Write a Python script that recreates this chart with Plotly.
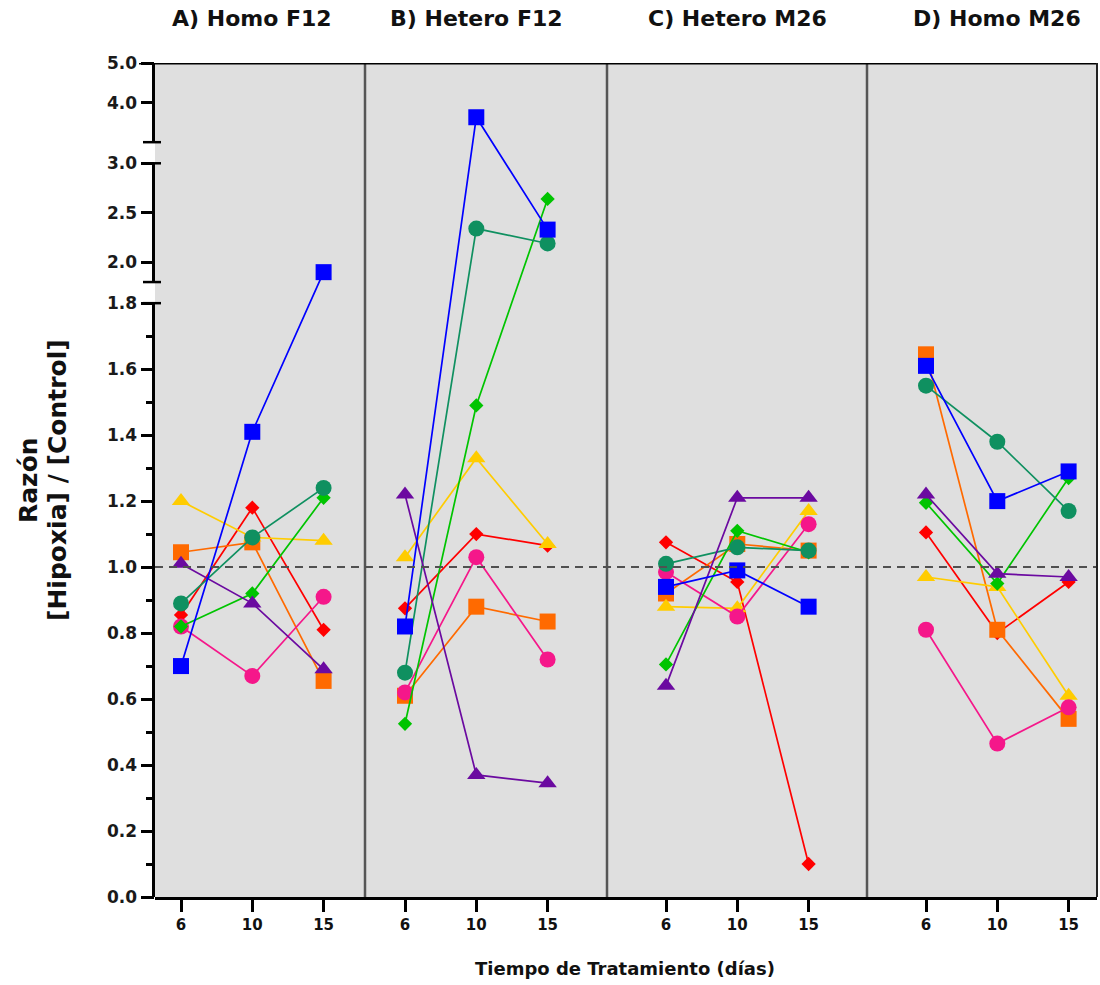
import plotly.graph_objects as go

# ---------------- data ----------------
DIAS = ["6", "10", "15"]
PANELES = ["A) Homo F12", "B) Hetero F12", "C) Hetero M26", "D) Homo M26"]

# values per panel (A, B, C, D) at days 6, 10, 15
ROJO = [[0.855, 1.18, 0.81], [0.875, 1.10, 1.065], [1.075, 0.955, 0.10], [1.105, 0.80, 0.955]]
NARANJA = [[1.045, 1.075, 0.655], [0.61, 0.88, 0.835], [0.92, 1.07, 1.05], [1.645, 0.81, 0.54]]
AMARILLO = [[1.20, 1.09, 1.08], [1.03, 1.33, 1.07], [0.88, 0.875, 1.17], [0.97, 0.94, 0.61]]
ROSA = [[0.82, 0.67, 0.91], [0.62, 1.03, 0.72], [0.985, 0.85, 1.13], [0.81, 0.465, 0.575]]
VERDE = [[0.82, 0.92, 1.21], [0.525, 1.49, 2.64], [0.705, 1.11, 1.045], [1.195, 0.95, 1.27]]
VERDE_OSCURO = [[0.89, 1.09, 1.24], [0.68, 2.34, 2.19], [1.01, 1.06, 1.05], [1.55, 1.38, 1.17]]
MORADO = [[1.01, 0.89, 0.69], [1.22, 0.37, 0.345], [0.64, 1.21, 1.21], [1.22, 0.98, 0.97]]
AZUL = [[0.70, 1.41, 1.90], [0.82, 3.63, 2.33], [0.94, 0.99, 0.88], [1.61, 1.20, 1.29]]

Y_TICKS = [0.0, 0.2, 0.4, 0.6, 0.8, 1.0, 1.2, 1.4, 1.6, 1.8, 2.0, 2.5, 3.0, 4.0, 5.0]
Y_MINOR = [0.1, 0.3, 0.5, 0.7, 0.9, 1.1, 1.3, 1.5, 1.7]
REFERENCIA = 1.0

# ---------------- broken axis (3 segments) ----------------
LOW_MAX = 1.8
MID_MIN, MID_MAX = 1.8, 3.0
TOP_MIN, TOP_MAX = 3.0, 5.0
GAP = 0.064
K_MID = 0.30
K_TOP = 0.12

D_MID0 = LOW_MAX + GAP
D_MID1 = D_MID0 + (MID_MAX - MID_MIN) * K_MID
D_TOP0 = D_MID1 + GAP
D_TOP1 = D_TOP0 + (TOP_MAX - TOP_MIN) * K_TOP


def to_disp(v):
    if v <= LOW_MAX:
        return v
    if v <= MID_MAX:
        return D_MID0 + (v - MID_MIN) * K_MID
    return D_TOP0 + (v - TOP_MIN) * K_TOP


# ---------------- layout geometry ----------------
W, H = 1100, 985
PX_LEFT, PX_RIGHT = 155, 1097
PX_BOTTOM, PX_TOP = 897, 63
PANEL_EDGES = [155, 365, 607, 867, 1097]
CAT_FIRST = [181, 405, 666, 926]
CAT_STEP = 71.3
AXIS_X = 153.5


def px(x):
    return x / W


def py(y):
    return (H - y) / H


styles = [
    ("Rojo", ROJO, "#ff0000", "diamond", 11),
    ("Naranja", NARANJA, "#ff6a00", "square", 16),
    ("Amarillo", AMARILLO, "#ffcc00", "triangle-up", 16),
    ("Rosa", ROSA, "#f5178a", "circle", 16),
    ("Verde", VERDE, "#00c400", "diamond", 11),
    ("Verde oscuro", VERDE_OSCURO, "#0f9060", "circle", 16),
    ("Morado", MORADO, "#6b0aa0", "triangle-up", 16),
    ("Azul", AZUL, "#0000ff", "square", 16),
]

xaxes = ["x", "x2", "x3", "x4"]
fig = go.Figure()

for name, vals, color, symbol, size in styles:
    for p in range(4):
        fig.add_trace(go.Scatter(
            x=DIAS,
            y=[to_disp(v) for v in vals[p]],
            customdata=vals[p],
            xaxis=xaxes[p], yaxis="y",
            mode="lines+markers",
            name=name,
            showlegend=False,
            line=dict(color=color, width=1.7),
            marker=dict(symbol=symbol, size=size, color=color, line=dict(width=0)),
            hovertemplate=PANELES[p] + "<br>día %{x}: %{customdata:.2f}<extra>" + name + "</extra>",
        ))

layout = dict(
    width=W, height=H,
    autosize=False,
    margin=dict(l=0, r=0, t=0, b=0, pad=0),
    paper_bgcolor="white",
    plot_bgcolor="#dfdfdf",
    showlegend=False,
    font=dict(family="DejaVu Sans", color="#111111"),
)

for p in range(4):
    key = "xaxis" if p == 0 else f"xaxis{p + 1}"
    left, right = PANEL_EDGES[p], PANEL_EDGES[p + 1]
    r0 = (left - CAT_FIRST[p]) / CAT_STEP
    r1 = (right - CAT_FIRST[p]) / CAT_STEP
    layout[key] = dict(
        domain=[px(left), px(right)],
        anchor="y",
        automargin=False,
        type="category",
        categoryorder="array",
        categoryarray=DIAS,
        range=[r0, r1],
        showgrid=False, zeroline=False,
        showline=True, linewidth=3, linecolor="black",
        ticks="outside", ticklen=12, tickwidth=3, tickcolor="black",
        tickfont=dict(family="DejaVu Sans", size=15, color="#111111", weight="bold"),
        fixedrange=True,
    )

layout["yaxis"] = dict(
    domain=[py(PX_BOTTOM), py(PX_TOP)],
    anchor="free", position=px(AXIS_X),
    automargin=False,
    range=[0, D_TOP1],
    showgrid=False, zeroline=False, showline=False,
    tickmode="array",
    tickvals=[to_disp(v) for v in Y_TICKS],
    ticktext=[f"{v:.1f}" for v in Y_TICKS],
    ticks="outside", ticklen=13, tickwidth=2.5, tickcolor="black",
    tickfont=dict(family="DejaVu Sans", size=17, color="#1a1a1a", weight="bold"),
    minor=dict(tickvals=[to_disp(v) for v in Y_MINOR], ticks="outside",
               ticklen=8, tickwidth=2.5, tickcolor="black", showgrid=False),
    fixedrange=True,
)

shapes = []
# y-axis line, in three pieces
for y0, y1 in [(0, LOW_MAX), (D_MID0, D_MID1), (D_TOP0, D_TOP1)]:
    shapes.append(dict(type="line", xref="paper", yref="y", x0=px(AXIS_X), x1=px(AXIS_X),
                       y0=y0, y1=y1, line=dict(color="black", width=3)))
# break caps
for yc in [LOW_MAX, D_MID0, D_MID1, D_TOP0]:
    shapes.append(dict(type="line", xref="paper", yref="y", x0=px(143), x1=px(161),
                       y0=yc, y1=yc, line=dict(color="black", width=2.5)))
# panel separators
for xe in PANEL_EDGES[1:4]:
    shapes.append(dict(type="line", xref="paper", yref="y", x0=px(xe), x1=px(xe),
                       y0=0, y1=D_TOP1, line=dict(color="#555555", width=2.5)))
# reference line at 1.0
shapes.append(dict(type="line", xref="paper", yref="y", x0=px(PX_LEFT), x1=px(PX_RIGHT),
                   y0=to_disp(REFERENCIA), y1=to_disp(REFERENCIA),
                   line=dict(color="#505050", width=2, dash="8px,6px")))
# frame top and right
shapes.append(dict(type="line", xref="paper", yref="y", x0=px(139), x1=px(PX_RIGHT + 1),
                   y0=D_TOP1, y1=D_TOP1, line=dict(color="black", width=3)))
shapes.append(dict(type="line", xref="paper", yref="y", x0=px(PX_RIGHT), x1=px(PX_RIGHT),
                   y0=0, y1=D_TOP1, line=dict(color="#222222", width=2)))
layout["shapes"] = shapes

annotations = []
for p in range(4):
    annotations.append(dict(
        xref=xaxes[p], yref="paper", x=1, y=py(18), text=PANELES[p],
        showarrow=False, xanchor="center", yanchor="middle",
        font=dict(family="DejaVu Sans", size=22, color="#111111", weight="bold"),
    ))
annotations.append(dict(
    xref="paper", yref="paper", x=px(28), y=py(480), text="Razón", textangle=-90,
    showarrow=False, xanchor="center", yanchor="middle",
    font=dict(family="DejaVu Sans", size=25, color="#111111", weight="bold"),
))
annotations.append(dict(
    xref="paper", yref="paper", x=px(57), y=py(480), text="[Hipoxia] / [Control]", textangle=-90,
    showarrow=False, xanchor="center", yanchor="middle",
    font=dict(family="DejaVu Sans", size=25, color="#111111", weight="bold"),
))
annotations.append(dict(
    xref="paper", yref="paper", x=px(625), y=py(968), text="Tiempo de Tratamiento (días)",
    showarrow=False, xanchor="center", yanchor="middle",
    font=dict(family="DejaVu Sans", size=18, color="#111111", weight="bold"),
))
layout["annotations"] = annotations

fig.update_layout(**layout)
fig.write_html("out.html")
